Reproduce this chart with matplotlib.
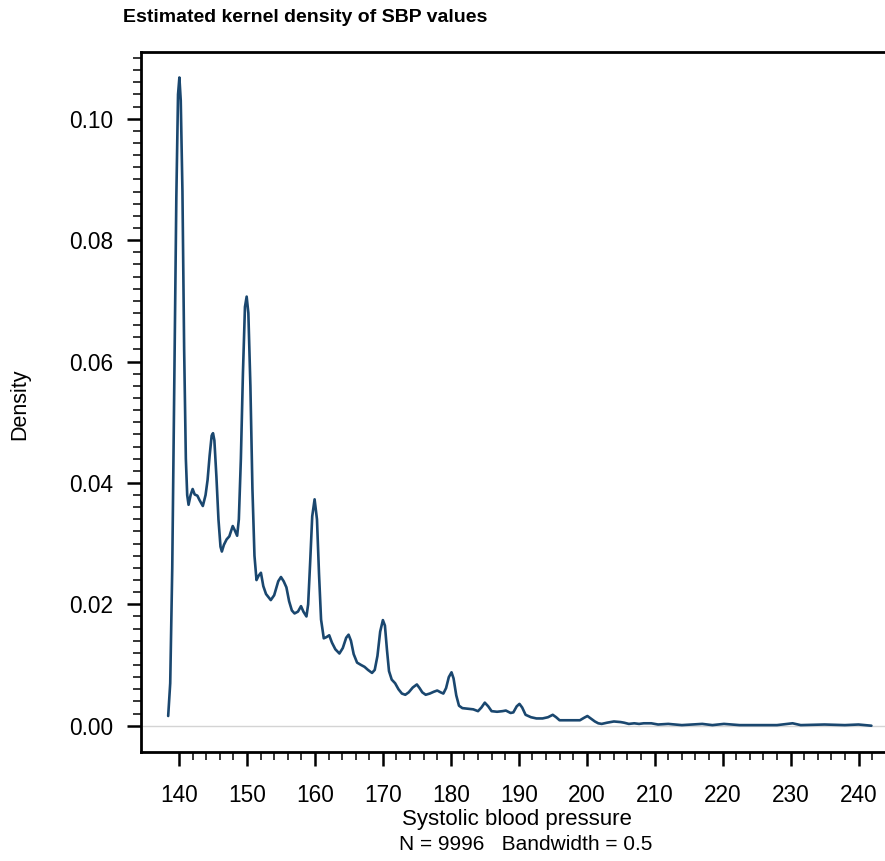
import matplotlib
matplotlib.use("Agg")
import matplotlib.pyplot as plt
from matplotlib.ticker import FixedLocator, FormatStrFormatter

plt.rcParams['font.family'] = ['Liberation Sans', 'DejaVu Sans']

# Density curve (SBP value, density)
sbp = [138.4, 138.7, 139.0, 139.3, 139.6, 139.85, 140.05, 140.25, 140.5, 140.75,
       141.0, 141.2, 141.4, 141.7, 142.0, 142.3, 142.7, 143.0, 143.5, 143.9,
       144.2, 144.5, 144.8, 145.0, 145.2, 145.5, 145.8, 146.1, 146.3, 146.6,
       147.0, 147.4, 147.9, 148.2, 148.55, 148.8, 149.1, 149.4, 149.7, 149.95,
       150.2, 150.5, 150.8, 151.1, 151.4, 151.7, 152.05, 152.4, 152.8, 153.5,
       154.0, 154.6, 155.0, 155.4, 155.8, 156.2, 156.6, 157.0, 157.5, 157.95,
       158.3, 158.75, 159.0, 159.3, 159.6, 159.95, 160.3, 160.6, 160.9, 161.3,
       161.7, 162.1, 162.5, 163.0, 163.6, 164.1, 164.6, 164.95, 165.3, 165.7,
       166.2, 166.8, 167.3, 167.8, 168.4, 168.8, 169.2, 169.6, 170.0, 170.3,
       170.6, 170.9, 171.3, 171.8, 172.3, 172.8, 173.3, 173.8, 174.4, 175.0,
       175.4, 175.8, 176.3, 176.9, 177.5, 178.0, 178.5, 178.9, 179.3, 179.7,
       180.1, 180.4, 180.8, 181.2, 181.7, 182.5, 183.3, 184.0, 184.5, 185.0,
       185.5, 186.0, 186.8, 187.6, 188.1, 188.8, 189.2, 189.7, 190.1, 190.5,
       191.0, 191.8, 192.6, 193.5, 194.3, 195.0, 195.5, 196.0, 197.0, 198.0,
       199.0, 199.6, 200.1, 200.6, 201.2, 201.7, 202.2, 203.0, 204.0, 205.0,
       205.5, 206.2, 207.0, 207.7, 208.4, 209.5, 210.5, 212.0, 214.0, 217.0,
       218.5, 220.2, 222.5, 226.0, 228.0, 230.3, 231.5, 235.0, 238.0, 240.0,
       241.9]
density = [0.0016, 0.0070, 0.0260, 0.0560, 0.0870, 0.1040, 0.1068, 0.1030, 0.0880, 0.0620,
           0.0440, 0.0380, 0.0364, 0.0380, 0.0390, 0.0381, 0.0379, 0.0372, 0.0362, 0.0380,
           0.0405, 0.0445, 0.0478, 0.0482, 0.0470, 0.0410, 0.0340, 0.0295, 0.0287, 0.0298,
           0.0307, 0.0312, 0.0329, 0.0322, 0.0313, 0.0340, 0.0440, 0.0580, 0.0690, 0.0707,
           0.0680, 0.0560, 0.0390, 0.0280, 0.0240, 0.0247, 0.0252, 0.0230, 0.0217, 0.0207,
           0.0215, 0.0238, 0.0245, 0.0238, 0.0228, 0.0205, 0.0190, 0.0185, 0.0188, 0.0197,
           0.0188, 0.0180, 0.0200, 0.0270, 0.0345, 0.0373, 0.0340, 0.0250, 0.0175, 0.0144,
           0.0146, 0.0149, 0.0137, 0.0126, 0.0119, 0.0128, 0.0145, 0.0150, 0.0140, 0.0118,
           0.0104, 0.0100, 0.0097, 0.0092, 0.0087, 0.0092, 0.0115, 0.0155, 0.0174, 0.0165,
           0.0125, 0.0090, 0.0076, 0.0070, 0.0060, 0.0053, 0.0051, 0.0055, 0.0063, 0.0068,
           0.0062, 0.0055, 0.0051, 0.0053, 0.0056, 0.0058, 0.0055, 0.0053, 0.0062, 0.0080,
           0.0088, 0.0078, 0.0050, 0.0033, 0.0029, 0.0028, 0.0027, 0.0024, 0.0030, 0.0038,
           0.0032, 0.0024, 0.0023, 0.0024, 0.0025, 0.0021, 0.0022, 0.0032, 0.0036, 0.0030,
           0.0018, 0.0014, 0.0012, 0.0012, 0.0014, 0.0018, 0.0014, 0.0009, 0.0009, 0.0009,
           0.0009, 0.0013, 0.0016, 0.0012, 0.0007, 0.0004, 0.0003, 0.0005, 0.0007, 0.0006,
           0.0005, 0.0003, 0.0004, 0.0003, 0.0004, 0.0004, 0.0002, 0.0003, 0.0001, 0.0003,
           0.0001, 0.0003, 0.0001, 0.0001, 0.0001, 0.0004, 0.0001, 0.0002, 0.0001, 0.0002,
           0.0000]

x_ticks = [140, 150, 160, 170, 180, 190, 200, 210, 220, 230, 240]
y_ticks = [0.00, 0.02, 0.04, 0.06, 0.08, 0.10]
x_minor = list(range(140, 244, 2))
y_minor = [i * 0.002 for i in range(0, 56)]

title = "Estimated kernel density of SBP values"
xlabel = "Systolic blood pressure"
note = "N = 9996   Bandwidth = 0.5"
ylabel = "Density"

W, H = 885, 861
fig = plt.figure(figsize=(W / 100, H / 100), dpi=100)
left, right, top, bottom = 141, 885, 52, 751.7
ax = fig.add_axes([left / W, 1 - bottom / H, (right - left) / W, (bottom - top) / H])

ax.axhline(0, color='#d4d4d4', lw=1.0, zorder=1)
ax.plot(sbp, density, color='#1a476f', lw=1.9, zorder=3,
        solid_joinstyle='round', solid_capstyle='round')

ax.set_xlim(134.4, 243.9)
ax.set_ylim(-0.00428, 0.1110)

ax.set_xticks(x_ticks)
ax.set_yticks(y_ticks)
ax.yaxis.set_major_formatter(FormatStrFormatter('%.2f'))
ax.xaxis.set_minor_locator(FixedLocator(x_minor))
ax.yaxis.set_minor_locator(FixedLocator(y_minor))

ax.spines['right'].set_visible(False)
for s in ['left', 'bottom', 'top']:
    ax.spines[s].set_linewidth(2.0)
    ax.spines[s].set_color('black')

ax.tick_params(which='major', length=10, width=1.8, labelsize=16.3, color='black')
ax.tick_params(which='minor', length=5.5, width=1.1, color='black')
ax.tick_params(axis='x', which='major', pad=13)
ax.tick_params(axis='y', which='major', pad=10)
ax.tick_params(axis='x', which='both', top=False)

fig.text(123 / W, 1 - 18 / H, title, ha='left', va='center', fontsize=14, fontweight='bold')
fig.text(517 / W, 1 - 820 / H, xlabel, ha='center', va='center', fontsize=16)
fig.text(526 / W, 1 - 845 / H, note, ha='center', va='center', fontsize=15)
fig.text(20 / W, 1 - 404 / H, ylabel, ha='center', va='center', fontsize=15.5, rotation=90)

fig.savefig("out.png", dpi=100)
